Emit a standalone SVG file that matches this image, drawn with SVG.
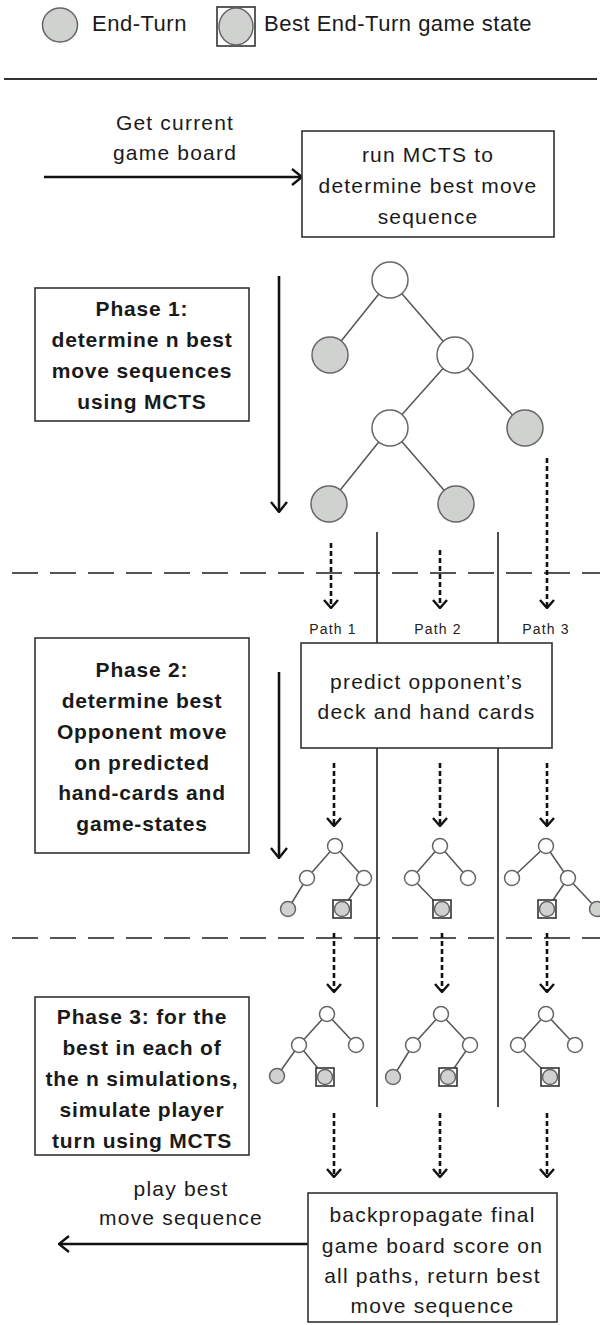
<svg xmlns="http://www.w3.org/2000/svg" width="600" height="1325" viewBox="0 0 600 1325">
<style>
text{font-family:"Liberation Sans",Arial,sans-serif;fill:#1a1a1a;text-anchor:middle}
.t{font-size:21px;letter-spacing:1.2px}
.b{font-size:21px;font-weight:bold;letter-spacing:0.8px}
.lg{font-size:22px;letter-spacing:0.5px;text-anchor:start}
.p{font-size:14px;letter-spacing:1.2px;fill:#222}
.box{fill:#fff;stroke:#333;stroke-width:1.6}
.w{fill:#fff;stroke:#666;stroke-width:1.5}
.g{fill:#d0d2d0;stroke:#666;stroke-width:1.5}
.sq{fill:#fff;stroke:#333;stroke-width:1.6}
.e{stroke:#555;stroke-width:1.5;fill:none}
.sol{stroke:#111;stroke-width:2.6;fill:none}
.dot{stroke:#111;stroke-width:2.6;stroke-dasharray:5 3;fill:none}
.dash{stroke:#555;stroke-width:2;stroke-dasharray:26 12;fill:none}
.v{stroke:#222;stroke-width:1.6;fill:none}
</style>
<defs>
<marker id="ah" markerUnits="userSpaceOnUse" viewBox="0 0 12 18" refX="11" refY="9" markerWidth="12" markerHeight="18" orient="auto"><path d="M1,1 L11,9 L1,17" fill="none" stroke="#111" stroke-width="2.4"/></marker>
<marker id="dh" markerUnits="userSpaceOnUse" viewBox="0 0 10 16" refX="9" refY="8" markerWidth="10" markerHeight="16" orient="auto"><path d="M1,1 L9,8 L1,15" fill="none" stroke="#111" stroke-width="2.4"/></marker>
</defs>

<g id="legend">
<ellipse class="g" cx="60" cy="25" rx="17.5" ry="17"/>
<text class="lg" x="92" y="31">End-Turn</text>
<rect class="sq" x="217" y="7" width="38" height="39"/>
<ellipse class="g" cx="236" cy="26.5" rx="17" ry="18.5"/>
<text class="lg" x="264" y="31">Best End-Turn game state</text>
<line x1="4" y1="79" x2="597" y2="79" stroke="#333" stroke-width="2"/>
</g>

<g id="separators">
<line class="dash" x1="12" y1="573" x2="600" y2="573"/>
<line class="dash" x1="12" y1="938" x2="600" y2="938"/>
<line class="v" x1="377" y1="532" x2="377" y2="643"/>
<line class="v" x1="498" y1="532" x2="498" y2="643"/>
<line class="v" x1="377" y1="748" x2="377" y2="1107"/>
<line class="v" x1="498" y1="748" x2="498" y2="1107"/>
</g>

<g id="connectors">
<line class="sol" x1="44" y1="177" x2="302" y2="177" marker-end="url(#ah)"/>
<line class="sol" x1="279" y1="276" x2="279" y2="512" marker-end="url(#ah)"/>
<line class="sol" x1="279" y1="672" x2="279" y2="858" marker-end="url(#ah)"/>
<line class="sol" x1="308" y1="1244" x2="59" y2="1244" marker-end="url(#ah)"/>
<line class="dot" x1="331" y1="543" x2="331" y2="608" marker-end="url(#dh)"/>
<line class="dot" x1="440" y1="550" x2="440" y2="608" marker-end="url(#dh)"/>
<line class="dot" x1="547" y1="458" x2="547" y2="608" marker-end="url(#dh)"/>
<line class="dot" x1="334" y1="763" x2="334" y2="826" marker-end="url(#dh)"/>
<line class="dot" x1="440" y1="763" x2="440" y2="826" marker-end="url(#dh)"/>
<line class="dot" x1="547" y1="763" x2="547" y2="826" marker-end="url(#dh)"/>
<line class="dot" x1="334" y1="933" x2="334" y2="992" marker-end="url(#dh)"/>
<line class="dot" x1="442" y1="933" x2="442" y2="992" marker-end="url(#dh)"/>
<line class="dot" x1="547" y1="933" x2="547" y2="992" marker-end="url(#dh)"/>
<line class="dot" x1="334" y1="1113" x2="334" y2="1177" marker-end="url(#dh)"/>
<line class="dot" x1="440" y1="1113" x2="440" y2="1177" marker-end="url(#dh)"/>
<line class="dot" x1="547" y1="1113" x2="547" y2="1177" marker-end="url(#dh)"/>
</g>

<g id="labels">
<text class="t" x="175" y="130">Get current</text>
<text class="t" x="175" y="160">game board</text>
<text class="t" x="181" y="1196">play best</text>
<text class="t" x="181" y="1225">move sequence</text>
<text class="p" x="333" y="634">Path 1</text>
<text class="p" x="438" y="634">Path 2</text>
<text class="p" x="546" y="634">Path 3</text>
</g>

<g id="run-mcts">
<rect class="box" x="302" y="131" width="252" height="106"/>
<text class="t" x="428" y="162">run MCTS to</text>
<text class="t" x="428" y="193">determine best move</text>
<text class="t" x="428" y="224">sequence</text>
</g>

<g id="phase1">
<rect class="box" x="35" y="288" width="214" height="133"/>
<text class="b" x="142" y="316">Phase 1:</text>
<text class="b" x="142" y="347">determine n best</text>
<text class="b" x="142" y="378">move sequences</text>
<text class="b" x="142" y="409">using MCTS</text>
</g>

<g id="tree1">
<line class="e" x1="390" y1="280" x2="330" y2="355"/>
<line class="e" x1="390" y1="280" x2="455" y2="355"/>
<line class="e" x1="455" y1="355" x2="390" y2="428"/>
<line class="e" x1="455" y1="355" x2="525" y2="428"/>
<line class="e" x1="390" y1="428" x2="329" y2="504"/>
<line class="e" x1="390" y1="428" x2="456" y2="504"/>
<circle class="w" cx="390" cy="280" r="18"/>
<circle class="g" cx="330" cy="355" r="18"/>
<circle class="w" cx="455" cy="355" r="18"/>
<circle class="w" cx="390" cy="428" r="18"/>
<circle class="g" cx="525" cy="428" r="18"/>
<circle class="g" cx="329" cy="504" r="18"/>
<circle class="g" cx="456" cy="504" r="18"/>
</g>

<g id="phase2">
<rect class="box" x="35" y="638" width="214" height="215"/>
<text class="b" x="142" y="677">Phase 2:</text>
<text class="b" x="142" y="708">determine best</text>
<text class="b" x="142" y="739">Opponent move</text>
<text class="b" x="142" y="770">on predicted</text>
<text class="b" x="142" y="800">hand-cards and</text>
<text class="b" x="142" y="831">game-states</text>
</g>

<g id="predict">
<rect class="box" x="301" y="643" width="251" height="105"/>
<text class="t" x="426.5" y="689">predict opponent’s</text>
<text class="t" x="426.5" y="719">deck and hand cards</text>
</g>

<g id="p2tree1">
<line class="e" x1="335" y1="846" x2="307" y2="878"/>
<line class="e" x1="335" y1="846" x2="364" y2="878"/>
<line class="e" x1="307" y1="878" x2="288" y2="909"/>
<line class="e" x1="364" y1="878" x2="342" y2="909"/>
<circle class="w" cx="335" cy="846" r="7.5"/>
<circle class="w" cx="307" cy="878" r="7.5"/>
<circle class="w" cx="364" cy="878" r="7.5"/>
<circle class="g" cx="288" cy="909" r="7.5"/>
<rect class="sq" x="333" y="900" width="18" height="18"/>
<circle class="g" cx="342" cy="909" r="7.5"/>
</g>
<g id="p2tree2">
<line class="e" x1="440" y1="846" x2="412" y2="878"/>
<line class="e" x1="440" y1="846" x2="468" y2="878"/>
<line class="e" x1="412" y1="878" x2="442" y2="909"/>
<circle class="w" cx="440" cy="846" r="7.5"/>
<circle class="w" cx="412" cy="878" r="7.5"/>
<circle class="w" cx="468" cy="878" r="7.5"/>
<rect class="sq" x="433" y="900" width="18" height="18"/>
<circle class="g" cx="442" cy="909" r="7.5"/>
</g>
<g id="p2tree3">
<line class="e" x1="546" y1="846" x2="512" y2="878"/>
<line class="e" x1="546" y1="846" x2="568" y2="878"/>
<line class="e" x1="568" y1="878" x2="547" y2="909"/>
<line class="e" x1="568" y1="878" x2="597" y2="909"/>
<circle class="w" cx="546" cy="846" r="7.5"/>
<circle class="w" cx="512" cy="878" r="7.5"/>
<circle class="w" cx="568" cy="878" r="7.5"/>
<rect class="sq" x="538" y="900" width="18" height="18"/>
<circle class="g" cx="547" cy="909" r="7.5"/>
<circle class="g" cx="597" cy="909" r="7.5"/>
</g>

<g id="phase3">
<rect class="box" x="35" y="997" width="214" height="158"/>
<text class="b" x="142" y="1024">Phase 3: for the</text>
<text class="b" x="142" y="1055">best in each of</text>
<text class="b" x="142" y="1086">the n simulations,</text>
<text class="b" x="142" y="1117">simulate player</text>
<text class="b" x="142" y="1148">turn using MCTS</text>
</g>

<g id="p3tree1">
<line class="e" x1="327" y1="1014" x2="299" y2="1045"/>
<line class="e" x1="327" y1="1014" x2="356" y2="1045"/>
<line class="e" x1="299" y1="1045" x2="277" y2="1076"/>
<line class="e" x1="299" y1="1045" x2="325" y2="1077"/>
<circle class="w" cx="327" cy="1014" r="7.5"/>
<circle class="w" cx="299" cy="1045" r="7.5"/>
<circle class="w" cx="356" cy="1045" r="7.5"/>
<circle class="g" cx="277" cy="1076" r="7.5"/>
<rect class="sq" x="316" y="1068" width="18" height="18"/>
<circle class="g" cx="325" cy="1077" r="7.5"/>
</g>
<g id="p3tree2">
<line class="e" x1="441" y1="1014" x2="413" y2="1045"/>
<line class="e" x1="441" y1="1014" x2="470" y2="1045"/>
<line class="e" x1="413" y1="1045" x2="393" y2="1077"/>
<line class="e" x1="470" y1="1045" x2="448" y2="1077"/>
<circle class="w" cx="441" cy="1014" r="7.5"/>
<circle class="w" cx="413" cy="1045" r="7.5"/>
<circle class="w" cx="470" cy="1045" r="7.5"/>
<circle class="g" cx="393" cy="1077" r="7.5"/>
<rect class="sq" x="439" y="1068" width="18" height="18"/>
<circle class="g" cx="448" cy="1077" r="7.5"/>
</g>
<g id="p3tree3">
<line class="e" x1="546" y1="1014" x2="518" y2="1045"/>
<line class="e" x1="546" y1="1014" x2="575" y2="1045"/>
<line class="e" x1="518" y1="1045" x2="550" y2="1077"/>
<circle class="w" cx="546" cy="1014" r="7.5"/>
<circle class="w" cx="518" cy="1045" r="7.5"/>
<circle class="w" cx="575" cy="1045" r="7.5"/>
<rect class="sq" x="541" y="1068" width="18" height="18"/>
<circle class="g" cx="550" cy="1077" r="7.5"/>
</g>

<g id="backprop">
<rect class="box" x="308" y="1193" width="249" height="129"/>
<text class="t" x="432.5" y="1222">backpropagate final</text>
<text class="t" x="432.5" y="1253">game board score on</text>
<text class="t" x="432.5" y="1283">all paths, return best</text>
<text class="t" x="432.5" y="1313">move sequence</text>
</g>
</svg>
